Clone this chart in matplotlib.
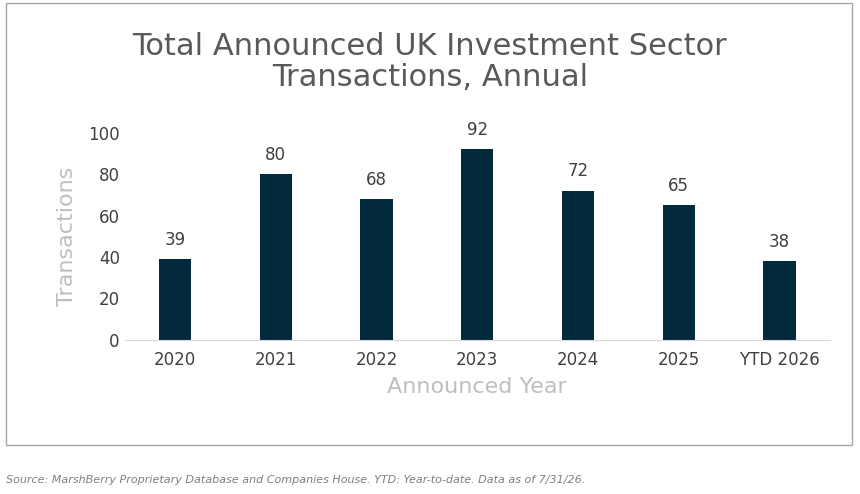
import matplotlib.pyplot as plt
from matplotlib.patches import Rectangle

years = ["2020", "2021", "2022", "2023", "2024", "2025", "YTD 2026"]
transactions = [39, 80, 68, 92, 72, 65, 38]

fig = plt.figure(figsize=(8.6, 4.94), dpi=100)
ax = fig.add_axes([0.145, 0.312, 0.82, 0.419])

# chart frame
fig.patches.append(Rectangle((6 / 860, 1 - 445 / 494), 846 / 860, 442 / 494,
                             transform=fig.transFigure, fill=False,
                             edgecolor="#a6a6a6", linewidth=1))

x = range(len(years))
ax.bar(x, transactions, width=0.32, color="#032a3c")
for i, v in zip(x, transactions):
    ax.text(i, v + 5, str(v), ha="center", va="bottom", fontsize=12, color="#404040")

ax.set_xlim(-0.5, len(years) - 0.5)
ax.set_ylim(0, 100)
ax.set_yticks(range(0, 101, 20))
ax.set_xticks(list(x))
ax.set_xticklabels(years)
ax.tick_params(axis="both", length=0, labelsize=12, colors="#404040")
ax.tick_params(axis="x", pad=8)
for s in ["top", "right", "left"]:
    ax.spines[s].set_visible(False)
ax.spines["bottom"].set_color("#d9d9d9")

ax.set_ylabel("Transactions", fontsize=16, color="#bfbfbf", labelpad=8)
ax.set_xlabel("Announced Year", fontsize=16, color="#bfbfbf", labelpad=6)

fig.text(0.5, 1 - 62 / 494, "Total Announced UK Investment Sector\nTransactions, Annual",
         ha="center", va="center", fontsize=22, color="#595959", linespacing=1.1)

fig.text(6 / 860, 1 - 480 / 494,
         "Source: MarshBerry Proprietary Database and Companies House. YTD: Year-to-date. Data as of 7/31/26.",
         ha="left", va="center", fontsize=8, style="italic", color="#7f7f7f")

fig.savefig("out.png", dpi=100)
